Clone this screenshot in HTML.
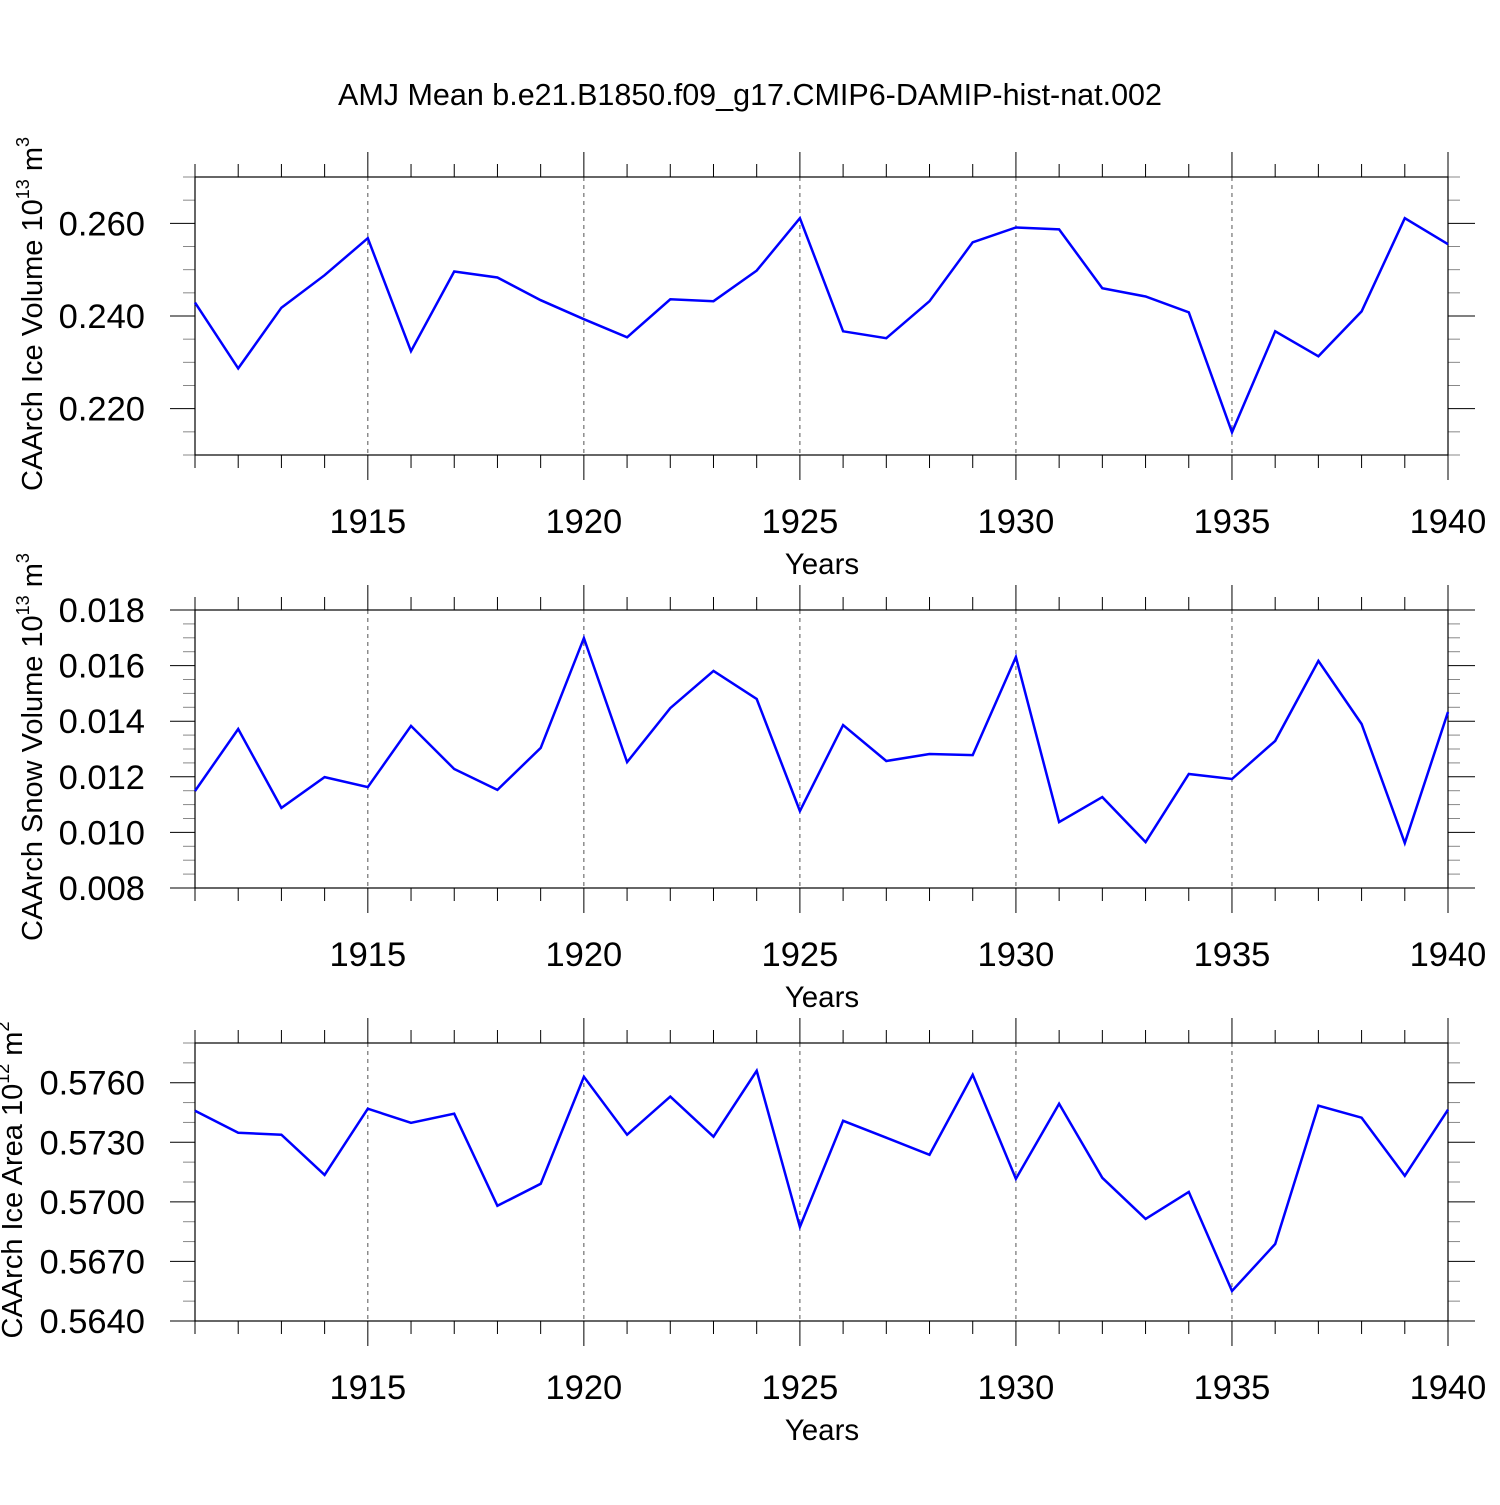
<!DOCTYPE html>
<html><head><meta charset="utf-8"><style>
body{margin:0;background:#fff}
svg text{font-family:"Liberation Sans",sans-serif;fill:#000}
</style></head><body>
<svg id="c" width="1500" height="1500" xmlns="http://www.w3.org/2000/svg">
<text x="750" y="105" font-size="30.5" text-anchor="middle">AMJ Mean b.e21.B1850.f09_g17.CMIP6-DAMIP-hist-nat.002</text>
</svg>
<script>
const years = [1911,1912,1913,1914,1915,1916,1917,1918,1919,1920,1921,1922,1923,1924,1925,1926,1927,1928,1929,1930,1931,1932,1933,1934,1935,1936,1937,1938,1939,1940];
const iceVolume = [0.2429,0.2287,0.2418,0.2488,0.2568,0.2324,0.2496,0.2483,0.2434,0.2393,0.2354,0.2436,0.2432,0.2498,0.2611,0.2367,0.2352,0.2432,0.2559,0.2591,0.2587,0.2460,0.2442,0.2408,0.2149,0.2367,0.2313,0.2410,0.2611,0.2555];
const snowVolume = [0.01149,0.01372,0.01088,0.01199,0.01163,0.01383,0.01228,0.01153,0.01304,0.01699,0.01253,0.01447,0.01581,0.01480,0.01077,0.01386,0.01257,0.01282,0.01278,0.01631,0.01037,0.01127,0.00965,0.01210,0.01192,0.01329,0.01617,0.01390,0.00962,0.01433];
const iceArea = [0.57459,0.57348,0.57338,0.57136,0.57469,0.57398,0.57444,0.5698,0.57091,0.5763,0.57338,0.5753,0.57328,0.5766,0.56874,0.57408,0.57323,0.57237,0.5764,0.57116,0.57494,0.57121,0.56914,0.5705,0.56551,0.56788,0.57484,0.57424,0.57131,0.57464];
const xTickLabels = ["1915","1920","1925","1930","1935","1940"];
const iceVolTicks = ["0.220","0.240","0.260"];
const snowTicks = ["0.008","0.010","0.012","0.014","0.016","0.018"];
const areaTicks = ["0.5640","0.5670","0.5700","0.5730","0.5760"];

const svg = document.getElementById('c');
const NS = 'http://www.w3.org/2000/svg';
function mk(tag, attrs, parent){
  const e = document.createElementNS(NS, tag);
  for (const k in attrs) e.setAttribute(k, attrs[k]);
  (parent||svg).appendChild(e); return e;
}
const L = 195, R = 1448, x0 = 1911, x1 = 1940;
const xs = v => L + (v - x0) / (x1 - x0) * (R - L);

function panel(name, top, ymin, ymax, minorStep, ticks, values, ylab1, sup, ylab2, titleX) {
  const bot = top + 278;
  const ys = v => bot - (v - ymin) / (ymax - ymin) * (bot - top);
  const g = mk('g', {});
  
  
  for (let y = x0; y <= x1; y++) {
    const major = (y % 5 === 0);
    const len = major ? 25 : 13;
    const t1 = mk('line', {x1: xs(y), x2: xs(y), y1: top - len, y2: top, stroke: '#000', 'stroke-width': 1}, g);
    
    
    const t2 = mk('line', {x1: xs(y), x2: xs(y), y1: bot, y2: bot + len, stroke: '#000', 'stroke-width': 1}, g);
    
    
  }
  xTickLabels.forEach(s => {
    const v = +s;
    const gl = mk('line', {x1: xs(v), x2: xs(v), y1: top, y2: bot, stroke: '#555', 'stroke-width': 1, 'stroke-dasharray': '4,4'}, g);
    
    
    const t = mk('text', {x: xs(v), y: bot + 78, 'font-size': 34.5, 'text-anchor': 'middle'}, g);
    t.textContent = s;
    
    
  });
  const n = Math.round((ymax - ymin) / minorStep);
  for (let i = 0; i <= n; i++) {
    const v = ymin + i * minorStep;
    const yy = ys(v);
    const isMaj = ticks.some(s => Math.abs(+s - v) < minorStep / 10);
    const len = isMaj ? 25 : 12;
    const col = isMaj ? '#000' : '#888';
    const a = mk('line', {x1: L - len, x2: L, y1: yy, y2: yy, stroke: col, 'stroke-width': 1}, g);
    
    
    const b = mk('line', {x1: R, x2: R + (isMaj ? 27 : 12), y1: yy, y2: yy, stroke: col, 'stroke-width': 1}, g);
    
    
  }
  ticks.forEach(s => {
    const t = mk('text', {x: 145, y: ys(+s) + 12, 'font-size': 34.5, 'text-anchor': 'end'}, g);
    t.textContent = s;
    
    
  });
  const box = mk('rect', {x: L, y: top, width: R - L, height: bot - top, fill: 'none', stroke: '#000', 'stroke-width': 1.2}, g);
  
  
  const pts = values.map((v, i) => xs(years[i]).toFixed(1) + ',' + ys(v).toFixed(1)).join(' ');
  const line = mk('polyline', {points: pts, fill: 'none', stroke: '#0000ff', 'stroke-width': 2.5, 'stroke-linejoin': 'miter'}, g);
  
  
  const xt = mk('text', {x: 822, y: bot + 119, 'font-size': 29.5, 'text-anchor': 'middle'}, g);
  xt.textContent = 'Years';
  
  
  const cy = (top + bot) / 2 - 2;
  const yt = mk('text', {x: 0, y: 0, 'font-size': 29, 'text-anchor': 'middle', transform: `translate(${titleX},${cy}) rotate(-90)`}, g);
  
  
  const s1 = document.createElementNS(NS, 'tspan'); s1.textContent = ylab1; yt.appendChild(s1);
  const s2 = document.createElementNS(NS, 'tspan'); s2.setAttribute('dy', '-13'); s2.setAttribute('font-size', '18'); s2.textContent = sup; yt.appendChild(s2);
  const s3 = document.createElementNS(NS, 'tspan'); s3.setAttribute('dy', '13'); s3.textContent = ' m'; yt.appendChild(s3);
  const s4 = document.createElementNS(NS, 'tspan'); s4.setAttribute('dy', '-13'); s4.setAttribute('font-size', '18'); s4.textContent = ylab2; yt.appendChild(s4);
}
panel('ice-volume', 177, 0.210, 0.270, 0.005, iceVolTicks, iceVolume, 'CAArch Ice Volume 10', '13', '3', 42);
panel('snow-volume', 610, 0.008, 0.018, 0.0005, snowTicks, snowVolume, 'CAArch Snow Volume 10', '13', '3', 42);
panel('ice-area', 1043, 0.564, 0.578, 0.001, areaTicks, iceArea, 'CAArch Ice Area 10', '12', '2', 22);
</script>
</body></html>
